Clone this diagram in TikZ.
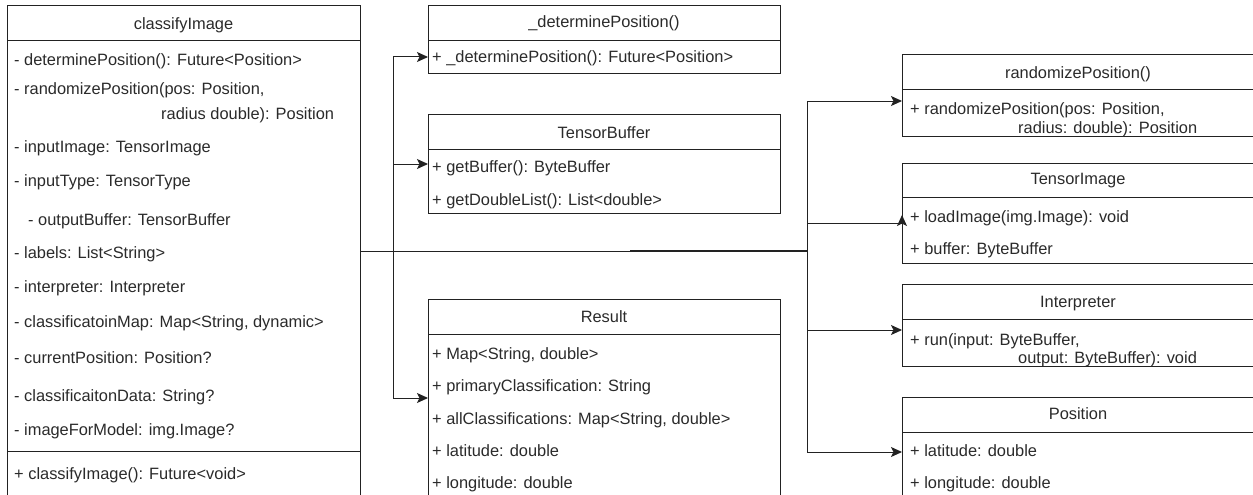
\documentclass[tikz,border=0pt]{standalone}
\usepackage{fontspec}
\setmainfont{Liberation Sans}
\usetikzlibrary{arrows.meta,calc}
\definecolor{ink}{HTML}{222222}
\definecolor{txt}{HTML}{2A2A2A}
\begin{document}
\begin{tikzpicture}[x=1pt,y=-1pt,
  box/.style={draw=ink,line width=1pt,anchor=north west,inner sep=0pt,minimum width=352pt},
  title/.style={anchor=base,inner sep=0pt,text=txt,font=\fontsize{16.4}{19}\selectfont},
  row/.style={anchor=base west,inner sep=0pt,text=txt,font=\fontsize{16.4}{19}\selectfont},
  conn/.style={draw=ink,line width=1pt},
  arr/.style={conn,-{Stealth[length=11pt,width=10pt,inset=2.5pt]}}]
\useasboundingbox (0,0) rectangle (1253,495);
\clip (0,0) rectangle (1253,495);

% ---- classifyImage ----
\node[box,minimum width=353pt,minimum height=495pt] (ci) at (7,5) {};
\draw[conn] (ci.west |- 0,41) -- (ci.east |- 0,41);
\draw[conn] (ci.west |- 0,451) -- (ci.east |- 0,451);
\node[title] (ciT) at (183.5,29.5) {classifyImage};
\node[row] (ci1) at (14,66) {- determinePosition(): Future<Position>};
\node[row] (ci2) at (14,94) {- randomizePosition(pos: Position,};
\node[row] (ci2b) at (161,119) {radius double): Position};
\node[row] (ci3) at (14,152) {- inputImage: TensorImage};
\node[row] (ci4) at (14,186) {- inputType: TensorType};
\node[row] (ci5) at (28,225) {- outputBuffer: TensorBuffer};
\node[row] (ci6) at (14,258) {- labels: List<String>};
\node[row] (ci7) at (14,292) {- interpreter: Interpreter};
\node[row] (ci8) at (14,327) {- classificatoinMap: Map<String, dynamic>};
\node[row] (ci9) at (14,363) {- currentPosition: Position?};
\node[row] (ci10) at (14,401) {- classificaitonData: String?};
\node[row] (ci11) at (14,435) {- imageForModel: img.Image?};
\node[row] (ci12) at (14,479) {+ classifyImage(): Future<void>};

% ---- _determinePosition() ----
\node[box,minimum height=68pt] (det) at (428,5) {};
\draw[conn] (det.west |- 0,41) -- (det.east |- 0,41);
\node[title] (detT) at (604,28) {\_determinePosition()};
\node[row] (det1) at (432,63) {+ \_determinePosition(): Future<Position>};

% ---- TensorBuffer ----
\node[box,minimum height=99pt] (tb) at (428,114) {};
\draw[conn] (tb.west |- 0,149) -- (tb.east |- 0,149);
\node[title] (tbT) at (604,138) {TensorBuffer};
\node[row] (tb1) at (432,172) {+ getBuffer(): ByteBuffer};
\node[row] (tb2) at (432,205) {+ getDoubleList(): List<double>};

% ---- Result ----
\node[box,minimum height=210pt] (res) at (428,299) {};
\draw[conn] (res.west |- 0,334) -- (res.east |- 0,334);
\node[title] (resT) at (604,322) {Result};
\node[row] (res1) at (432,359) {+ Map<String, double>};
\node[row] (res2) at (432,391) {+ primaryClassification: String};
\node[row] (res3) at (432,424) {+ allClassifications: Map<String, double>};
\node[row] (res4) at (432,456) {+ latitude: double};
\node[row] (res5) at (432,488) {+ longitude: double};

% ---- randomizePosition() ----
\node[box,minimum height=82pt] (rnd) at (902,54) {};
\draw[conn] (rnd.west |- 0,89) -- (rnd.east |- 0,89);
\node[title] (rndT) at (1078,78) {randomizePosition()};
\node[row] (rnd1) at (910,114) {+ randomizePosition(pos: Position,};
\node[row] (rnd2) at (1018,133) {radius: double): Position};

% ---- TensorImage ----
\node[box,minimum height=100pt] (ti) at (902,163) {};
\draw[conn] (ti.west |- 0,197) -- (ti.east |- 0,197);
\node[title] (tiT) at (1078,184) {TensorImage};
\node[row] (ti1) at (910,222) {+ loadImage(img.Image): void};
\node[row] (ti2) at (910,254) {+ buffer: ByteBuffer};

% ---- Interpreter ----
\node[box,minimum height=82pt] (itp) at (902,284) {};
\draw[conn] (itp.west |- 0,319) -- (itp.east |- 0,319);
\node[title] (itpT) at (1078,307) {Interpreter};
\node[row] (itp1) at (910,345) {+ run(input: ByteBuffer,};
\node[row] (itp2) at (1018,363) {output: ByteBuffer): void};

% ---- Position ----
\node[box,minimum height=110pt] (pos) at (902,397) {};
\draw[conn] (pos.west |- 0,432) -- (pos.east |- 0,432);
\node[title] (posT) at (1078,419) {Position};
\node[row] (pos1) at (910,456) {+ latitude: double};
\node[row] (pos2) at (910,488) {+ longitude: double};

% ---- connectors ----
\coordinate (out) at (ci.east |- 0,251);
\coordinate (mid) at (630,251);
\coordinate (hubR) at (807,251);
\coordinate (jDet) at (393,57);
\coordinate (jTb) at (393,164);
\coordinate (jRes) at (393,398);
\coordinate (jRnd) at (807,101);
\coordinate (jTi) at (807,223);
\coordinate (jItp) at (807,330);
\coordinate (jPos) at (807,452);

\draw[conn] (out) -- (mid);
\draw[draw=ink,line width=2.6pt] (mid) -- (hubR);
\draw[conn] (jDet) -- (jRes);
\draw[conn] (jRnd) -- (jPos);
\draw[arr] (jDet) -- (jDet -| det.west);
\draw[arr] (jTb) -- (jTb -| tb.west);
\draw[arr] (jRes) -- (jRes -| res.west);
\draw[arr] (jRnd) -- (jRnd -| rnd.west);
\draw[conn] (jTi) -- (jTi -| ti.west);
\draw[arr] ($(jTi -| ti.west)+(0,6)$) -- ($(jTi -| ti.west)+(0,-8)$);
\draw[arr] (jItp) -- (jItp -| itp.west);
\draw[arr] (jPos) -- (jPos -| pos.west);
\end{tikzpicture}
\end{document}
